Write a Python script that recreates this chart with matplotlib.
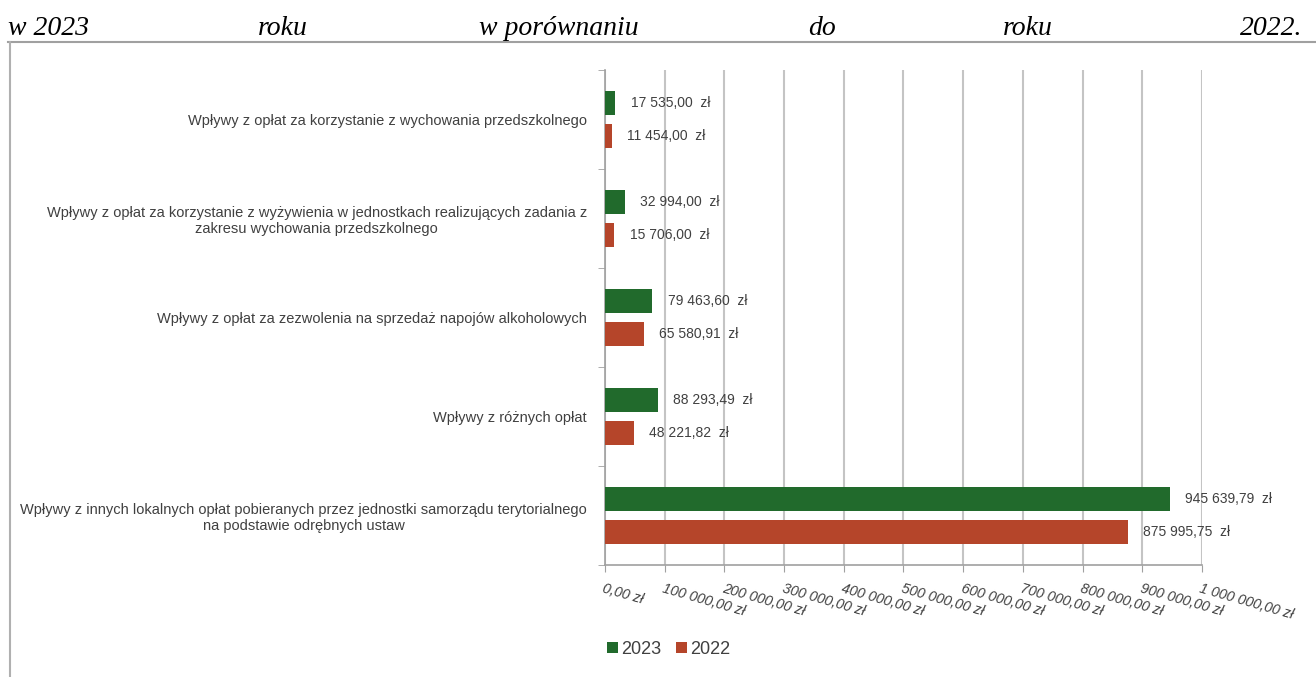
import numpy as np
import matplotlib.pyplot as plt
from matplotlib.lines import Line2D

categories = [
    "Wpływy z opłat za korzystanie z wychowania przedszkolnego",
    "Wpływy z opłat za korzystanie z wyżywienia w jednostkach realizujących zadania z\nzakresu wychowania przedszkolnego",
    "Wpływy z opłat za zezwolenia na sprzedaż napojów alkoholowych",
    "Wpływy z różnych opłat",
    "Wpływy z innych lokalnych opłat pobieranych przez jednostki samorządu terytorialnego\nna podstawie odrębnych ustaw",
]
values_2023 = [17535.00, 32994.00, 79463.60, 88293.49, 945639.79]
values_2022 = [11454.00, 15706.00, 65580.91, 48221.82, 875995.75]
x_ticks = np.arange(0, 1000001, 100000)
title_words = ["w 2023", "roku", "w porównaniu", "do", "roku", "2022."]

GREEN = "#216a2c"
ORANGE = "#b5452a"
TEXT = "#404040"

plt.rcParams["font.family"] = ["Liberation Sans", "DejaVu Sans"]


def pln(v, sep=" "):
    s = f"{v:,.2f}".replace(",", " ").replace(".", ",")
    return s + sep + "zł"


def main():
    fig = plt.figure(figsize=(13.16, 6.77), dpi=100)

    # justified heading line above the chart frame
    word_x = [0.006, 0.196, 0.364, 0.614, 0.762, 0.990]
    for i, (w, x) in enumerate(zip(title_words, word_x)):
        fig.text(x, 0.958, w, family="Liberation Serif", style="italic",
                 fontsize=20, ha="right" if i == len(title_words) - 1 else "left",
                 va="center", color="black")

    # frame
    fig.add_artist(Line2D([0.006, 1.0], [0.938, 0.938], color="#a0a0a0", lw=1.5))
    fig.add_artist(Line2D([0.0076, 0.0076], [0.0, 0.938], color="#b0b0b0", lw=1.5))

    ax = fig.add_axes([0.4597, 0.1654, 0.4537, 0.7312])
    y = np.arange(len(categories))
    off = 0.167
    h = 0.25
    ax.barh(y - off, values_2023, height=h, color=GREEN, label="2023", zorder=3)
    ax.barh(y + off, values_2022, height=h, color=ORANGE, label="2022", zorder=3)

    for yi, v in zip(y - off, values_2023):
        ax.annotate(pln(v, "  "), (v, yi), xytext=(11, 0), textcoords="offset points",
                    va="center", ha="left", fontsize=10, color=TEXT, zorder=4)
    for yi, v in zip(y + off, values_2022):
        ax.annotate(pln(v, "  "), (v, yi), xytext=(11, 0), textcoords="offset points",
                    va="center", ha="left", fontsize=10, color=TEXT, zorder=4)

    ax.set_ylim(len(categories) - 0.5, -0.5)
    ax.set_xlim(0, 1000000)
    ax.set_xticks(x_ticks)
    ax.set_xticklabels([pln(t) for t in x_ticks], rotation=-16, ha="left",
                       va="top", rotation_mode="anchor", fontsize=10.3,
                       color=TEXT, style="italic")
    ax.tick_params(axis="x", length=5, color="#a0a0a0", pad=7)

    ax.set_yticks(y)
    ax.set_yticklabels(categories, fontsize=10.5, color=TEXT, ha="right",
                       multialignment="center")
    ax.tick_params(axis="y", length=0, pad=13)
    ax.set_yticks(np.arange(-0.5, len(categories), 1), minor=True)
    ax.tick_params(axis="y", which="minor", length=5, color="#a0a0a0")

    ax.grid(axis="x", color="#c4c4c4", lw=1.5, zorder=0)
    for s in ["top", "right"]:
        ax.spines[s].set_visible(False)
    for s in ["left", "bottom"]:
        ax.spines[s].set_color("#a0a0a0")
        ax.spines[s].set_linewidth(1.2)

    fig.legend(loc="center", bbox_to_anchor=(0.508, 0.041), ncol=2,
               frameon=False, fontsize=13, handlelength=0.6, handleheight=0.6,
               handletextpad=0.2, columnspacing=0.8, labelcolor=TEXT)

    fig.savefig("out.png", dpi=100)


if __name__ == "__main__":
    main()
